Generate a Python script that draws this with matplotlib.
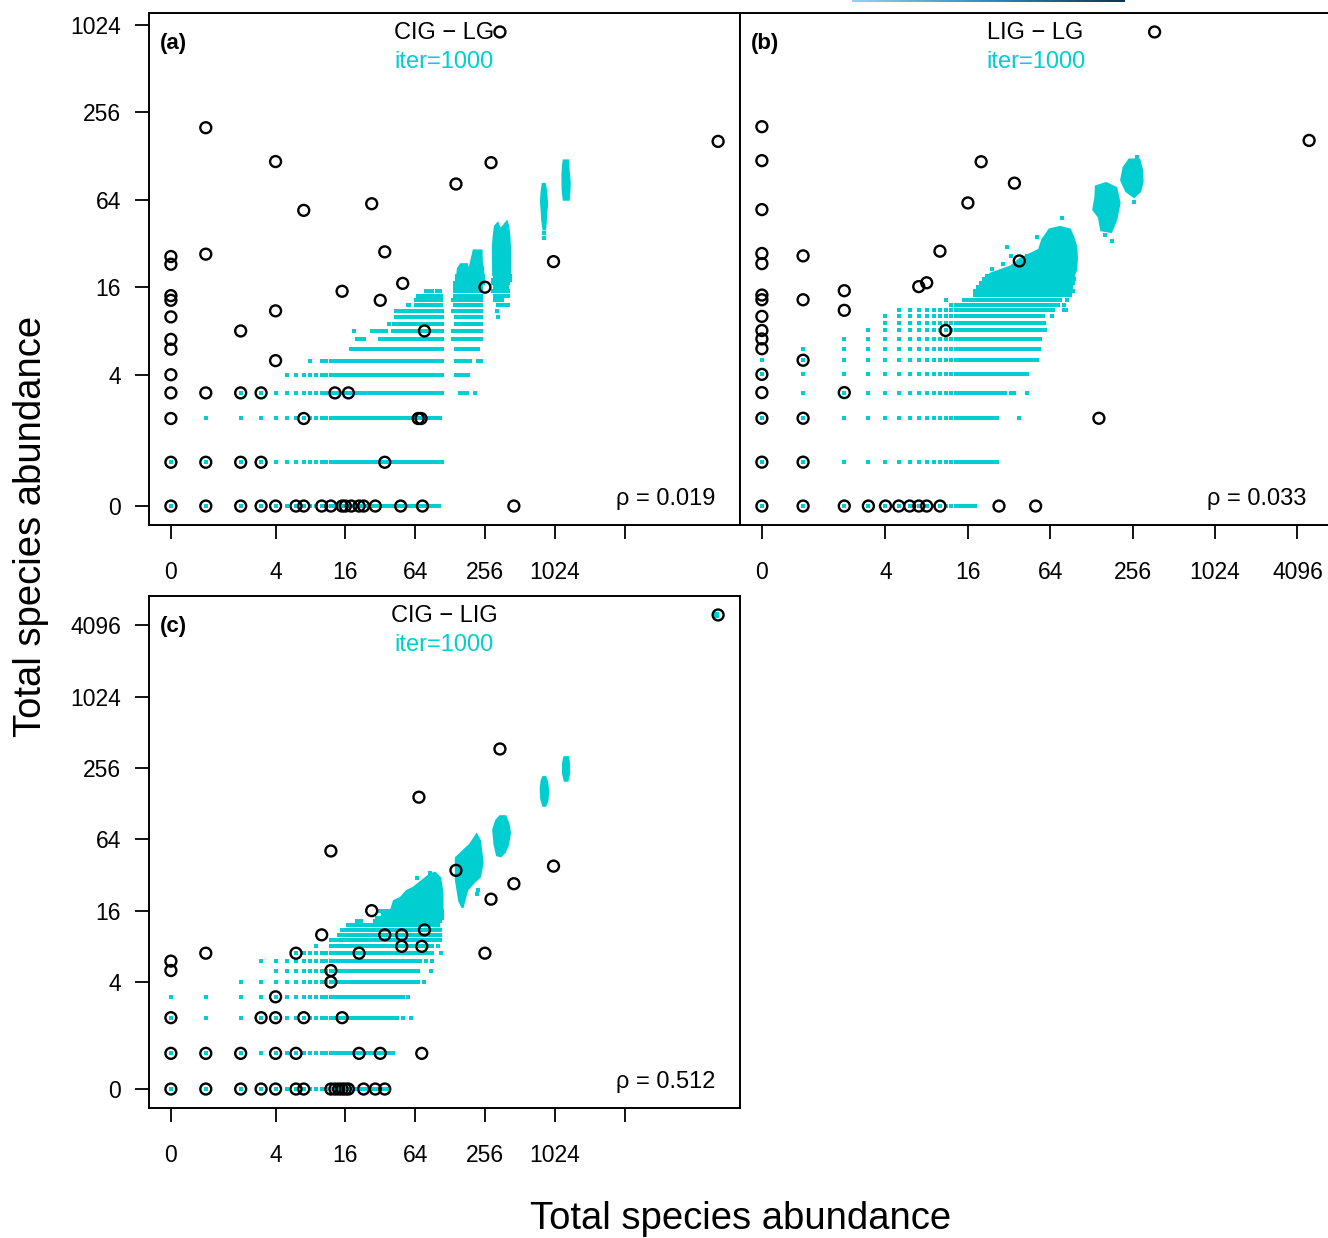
import numpy as np
import matplotlib
matplotlib.use("Agg")
import matplotlib.pyplot as plt
from matplotlib.ticker import NullLocator
from matplotlib.colors import LinearSegmentedColormap

plt.rcParams["font.family"] = ["Liberation Sans", "DejaVu Sans"]

# ---------------------------------------------------------------- data
panel_tags = ["(a)", "(b)", "(c)"]
panel_titles = ["CIG \u2212 LG", "LIG \u2212 LG", "CIG \u2212 LIG"]
rho_values = ["0.019", "0.033", "0.512"]
iter_text = "iter=1000"
axis_label = "Total species abundance"

x_ticks = [0, 4, 16, 64, 256, 1024, 4096]
x_labels_ac = ["0", "4", "16", "64", "256", "1024", ""]
x_labels_b = ["0", "4", "16", "64", "256", "1024", "4096"]
y_ticks_a = [0, 4, 16, 64, 256, 1024]
y_ticks_c = [0, 4, 16, 64, 256, 1024, 4096]

# observed abundances (open circles)
obs_a_x = [0, 0, 0, 0, 0, 0, 0, 0, 0, 0, 0, 0,
           1, 1, 1, 1, 1, 2, 2, 2, 2, 3, 3, 3, 4, 4, 4, 4, 6, 7, 7, 7,
           10, 12, 15, 16, 18, 21, 23, 29, 48, 74, 455,
           15, 13, 17, 27, 35, 35, 32, 50, 77, 68, 72, 345, 289, 144, 26300, 1000, 256]
obs_a_y = [26, 23, 14, 13, 10, 7, 6, 4, 3, 2, 1, 0,
           200, 27, 3, 1, 0, 8, 3, 1, 0, 3, 1, 0, 117, 11, 5, 0, 0, 54, 2, 0,
           0, 0, 0, 0, 0, 0, 0, 0, 0, 0, 0,
           15, 3, 3, 60, 28, 1, 13, 17, 8, 2, 2, 911, 115, 82, 161, 24, 16]

obs_b_x = [0, 0, 0, 0, 0, 0, 0, 0, 0, 0, 0, 0, 0, 0, 0, 0,
           1, 1, 1, 1, 1, 1, 2, 2, 2, 2,
           3, 4, 5, 6, 7, 8, 10, 27, 50,
           20, 35, 16, 10, 7, 8, 38, 11, 370, 4980, 145]
obs_b_y = [200, 117, 54, 27, 23, 14, 13, 10, 8, 7, 6, 4, 3, 2, 1, 0,
           26, 13, 5, 2, 1, 0, 15, 11, 3, 0,
           0, 0, 0, 0, 0, 0, 0, 0, 0,
           115, 82, 60, 28, 16, 17, 24, 8, 893, 161, 2]

obs_c_x = [0, 0, 0, 0, 0, 1, 1, 1, 2, 2, 3, 3, 4, 4, 4, 4, 6, 6, 6, 7, 7,
           12, 12, 12, 12, 13, 14, 15, 16, 17, 23, 29, 35,
           10, 15, 21, 21, 27, 35, 32, 49, 49, 73, 73, 77, 69, 26300, 345, 144, 1000, 455, 289, 256]
obs_c_y = [6, 5, 2, 1, 0, 7, 1, 0, 1, 0, 2, 0, 3, 2, 1, 0, 7, 1, 0, 2, 0,
           51, 5, 4, 0, 0, 0, 0, 0, 0, 0, 0, 0,
           10, 2, 7, 1, 16, 10, 1, 10, 8, 8, 1, 11, 145, 5000, 370, 35, 38, 27, 20, 7]

# simulated abundances (iter=1000): rows of integer values (y, x_from, x_to)
sim_rows_a = [
    (0, 0, 102), (1, 0, 101), (1, 110, 110), (2, 1, 104),
    (3, 2, 110), (3, 156, 179), (3, 210, 210),
    (4, 5, 110), (4, 144, 183),
    (5, 8, 8), (5, 10, 110), (5, 144, 190), (5, 224, 239),
    (6, 18, 110), (6, 144, 186), (6, 190, 221),
    (7, 20, 23), (7, 32, 110), (7, 137, 239),
    (8, 19, 19), (8, 27, 36), (8, 41, 110), (8, 137, 239),
    (9, 38, 38), (9, 42, 110), (9, 144, 235),
    (10, 44, 51), (10, 54, 110), (10, 144, 235), (10, 334, 334),
    (11, 44, 52), (11, 57, 64), (11, 67, 110), (11, 137, 239), (11, 323, 323),
    (12, 55, 57), (12, 65, 74), (12, 79, 107), (12, 141, 239), (12, 334, 408),
    (13, 65, 74), (13, 78, 107), (13, 137, 239), (13, 313, 357),
    (14, 68, 71), (14, 75, 89), (14, 95, 106), (14, 141, 239), (14, 313, 408),
    (15, 79, 89), (15, 99, 104), (15, 141, 239), (15, 302, 408),
    (16, 141, 235), (16, 313, 396),
    (17, 141, 247), (17, 302, 408),
    (18, 147, 247), (18, 302, 420),
    (19, 147, 247), (19, 313, 420),
]
sim_rows_b = [
    (0, 0, 18), (1, 0, 26), (2, 0, 26), (2, 38, 38),
    (3, 1, 30), (3, 33, 35), (3, 43, 43),
    (4, 0, 43), (5, 0, 51), (6, 1, 53), (7, 2, 54),
    (8, 3, 55), (8, 57, 59), (9, 4, 55), (9, 58, 58),
    (10, 4, 57), (10, 66, 66),
    (11, 5, 59), (11, 63, 67), (11, 80, 83),
    (12, 12, 56), (12, 58, 73), (12, 80, 80),
    (13, 11, 11), (13, 15, 75), (13, 85, 85),
    (14, 18, 85), (14, 89, 89),
    (15, 18, 87), (15, 90, 93),
    (16, 19, 86), (16, 90, 91),
    (17, 20, 87), (17, 90, 93),
    (18, 21, 89), (18, 91, 96),
    (19, 22, 89), (19, 94, 94),
]
sim_rows_c = [
    (0, 0, 38), (1, 0, 41),
    (2, 0, 41), (2, 45, 45), (2, 50, 50), (2, 59, 59),
    (3, 0, 50), (3, 55, 55),
    (4, 2, 68), (4, 77, 77),
    (5, 4, 68), (5, 87, 87),
    (6, 3, 70), (6, 80, 80), (6, 90, 90),
    (7, 6, 90), (7, 106, 106),
    (8, 9, 9), (8, 12, 90), (8, 100, 100),
    (9, 12, 104), (10, 14, 104), (11, 15, 104), (12, 17, 100),
    (13, 20, 20), (13, 22, 22), (13, 29, 104),
    (14, 30, 110), (15, 34, 110), (16, 32, 110),
]

# simulated dense clouds (outline vertices, x, y)
sim_clouds_a = [
    [(148, 19.5), (150, 21.5), (159, 23), (179, 23), (182, 21.4), (190, 22), (197, 25),
     (205, 28.6), (239, 28.6), (240, 24), (247, 21.4), (247, 19.5)],
    [(302, 19.5), (300, 30), (305, 36), (313, 42), (330, 44), (345, 40), (370, 42),
     (395, 45), (407, 42), (415, 36), (420, 30), (420, 19.5)],
    [(808, 82), (840, 82), (860, 75), (870, 66), (880, 60), (860, 50), (855, 44),
     (845, 40), (820, 40), (800, 46), (790, 55), (780, 62), (790, 72)],
    [(1226, 119), (1334, 119), (1350, 100), (1378, 85), (1370, 72), (1350, 64),
     (1226, 64), (1200, 75), (1195, 95), (1210, 110)],
]
sim_points_a_x = [830, 820]
sim_points_a_y = [38, 35]

sim_clouds_b = [
    [(23, 19.5), (33, 22), (38, 24.6), (53, 28.6), (56, 33.6), (60, 36.7), (63, 39.4),
     (75, 41), (89, 39.4), (94, 35), (99, 30), (100, 25), (99, 21), (96, 19.5)],
    [(138, 78), (164, 82), (194, 76), (205, 60), (194, 46), (178, 38), (151, 39),
     (145, 48), (132, 54), (137, 66)],
    [(242, 119), (286, 119), (300, 100), (302, 84), (290, 72), (262, 66), (230, 72),
     (211, 86), (220, 105)],
]
sim_points_b_x = [31, 51, 78, 24, 29, 33, 43, 160, 180, 275, 260]
sim_points_b_y = [30, 35, 47, 21, 23, 26, 26, 36, 33, 124, 61]

sim_clouds_c = [
    [(40, 16.5), (42, 19.3), (48, 20.5), (54, 23.4), (62, 25), (73, 28.4), (86, 32.3),
     (95, 33.3), (105, 30.3), (110, 22.6), (110, 16.5)],
    [(217, 70), (232, 62), (244, 40.5), (232, 31), (204, 27.5), (180, 24), (164, 17),
     (154, 19.3), (144, 29), (144, 44.6), (166, 51), (190, 57.6)],
    [(345, 100), (385, 100), (410, 85), (420, 72), (405, 58), (380, 50), (350, 46),
     (326, 47), (310, 58), (302, 77), (320, 92)],
    [(815, 214), (850, 214), (880, 195), (897, 165), (885, 135), (850, 123), (815, 123),
     (785, 140), (776, 170), (790, 200)],
    [(1240, 315), (1330, 315), (1360, 280), (1360, 230), (1320, 200), (1250, 200),
     (1210, 230), (1210, 280)],
    [(24000, 4800), (26000, 4800), (26000, 5200), (24000, 5200)],
]
sim_points_c_x = [217, 222, 66, 86]
sim_points_c_y = [22, 24, 30, 33]

# ---------------------------------------------------------------- style
CYAN = "#00CED1"
TICK_FS = 16.5
TITLE_FS = 17
DOT_S = 5.5


def zpos(v):
    """zero abundances are drawn at 0.5 on the log2 axis (label '0')."""
    v = np.asarray(v, dtype=float)
    return np.where(v <= 0, 0.5, v)


def expand_rows(rows):
    xs, ys = [], []
    for y, lo, hi in rows:
        for x in range(lo, hi + 1):
            xs.append(x)
            ys.append(y)
    return zpos(xs), zpos(ys)


def r_limits(vals):
    lo = np.log2(zpos(vals).min())
    hi = np.log2(zpos(vals).max())
    pad = 0.04 * (hi - lo)
    return 2 ** (lo - pad), 2 ** (hi + pad)


W, H = 1328, 1238
fig = plt.figure(figsize=(W / 100, H / 100), dpi=100)
ax_a = fig.add_axes([149 / W, 1 - 525 / H, 591 / W, 512 / H])
ax_b = fig.add_axes([740 / W, 1 - 525 / H, 591 / W, 512 / H])
ax_c = fig.add_axes([149 / W, 1 - 1108 / H, 591 / W, 512 / H])

panels = [
    (ax_a, obs_a_x, obs_a_y, sim_rows_a, sim_clouds_a, sim_points_a_x, sim_points_a_y,
     x_labels_ac, y_ticks_a),
    (ax_b, obs_b_x, obs_b_y, sim_rows_b, sim_clouds_b, sim_points_b_x, sim_points_b_y,
     x_labels_b, None),
    (ax_c, obs_c_x, obs_c_y, sim_rows_c, sim_clouds_c, sim_points_c_x, sim_points_c_y,
     x_labels_ac, y_ticks_c),
]

for i, (ax, ox, oy, rows, clouds, px, py, xlabs, yt) in enumerate(panels):
    ax.set_xscale("log", base=2)
    ax.set_yscale("log", base=2)

    # simulated values
    sx, sy = expand_rows(rows)
    ax.scatter(sx, sy, s=DOT_S, marker="s", color=CYAN, linewidths=0, zorder=2)
    for poly in clouds:
        cx = [p[0] for p in poly]
        cy = [p[1] for p in poly]
        ax.fill(cx, cy, facecolor=CYAN, edgecolor=CYAN, lw=1.6, zorder=2)
    ax.scatter(zpos(px), zpos(py), s=DOT_S, marker="s", color=CYAN, linewidths=0, zorder=2)

    # observed values
    ax.scatter(zpos(ox), zpos(oy), s=62, facecolors="none", edgecolors="black",
               linewidths=1.7, zorder=3)

    ax.set_xlim(*r_limits(ox))
    ax.set_ylim(*r_limits(oy))

    ax.set_xticks(zpos(x_ticks))
    ax.set_xticklabels(xlabs)
    ax.xaxis.set_minor_locator(NullLocator())
    ax.yaxis.set_minor_locator(NullLocator())
    if yt is None:
        ax.set_yticks([])
    else:
        ax.set_yticks(zpos(yt))
        ax.set_yticklabels([str(v) for v in yt])
    ax.tick_params(axis="x", direction="out", length=10, width=1.3,
                   labelsize=TICK_FS, pad=16)
    ax.tick_params(axis="y", direction="out", length=10, width=1.3,
                   labelsize=TICK_FS, pad=10)
    for sp in ax.spines.values():
        sp.set_linewidth(1.4)

    ax.text(0.5, 0.961, panel_titles[i], transform=ax.transAxes, ha="center",
            va="center", fontsize=TITLE_FS, color="black")
    ax.text(0.5, 0.905, iter_text, transform=ax.transAxes, ha="center",
            va="center", fontsize=TITLE_FS, color=CYAN)
    ax.text(0.019, 0.941, panel_tags[i], transform=ax.transAxes, ha="left",
            va="center", fontsize=16, fontweight="bold")
    ax.text(0.958, 0.051, "\u03c1 = " + rho_values[i], transform=ax.transAxes,
            ha="right", va="center", fontsize=TITLE_FS)

fig.text(741 / W, 1 - 1219 / H, axis_label, ha="center", va="center", fontsize=27.5)
fig.text(31 / W, 1 - 526 / H, axis_label, ha="center", va="center", fontsize=27.5,
         rotation=90)

# thin gradient bar at the very top (cropped element of the source page)
bar = fig.add_axes([852 / W, 1 - 2 / H, 273 / W, 2 / H])
cmap = LinearSegmentedColormap.from_list("bar", ["#93d3f2", "#2a8cc6", "#0b3556"])
bar.imshow(np.linspace(0, 1, 256)[None, :], aspect="auto", cmap=cmap)
bar.axis("off")

fig.savefig("out.png", dpi=100)
